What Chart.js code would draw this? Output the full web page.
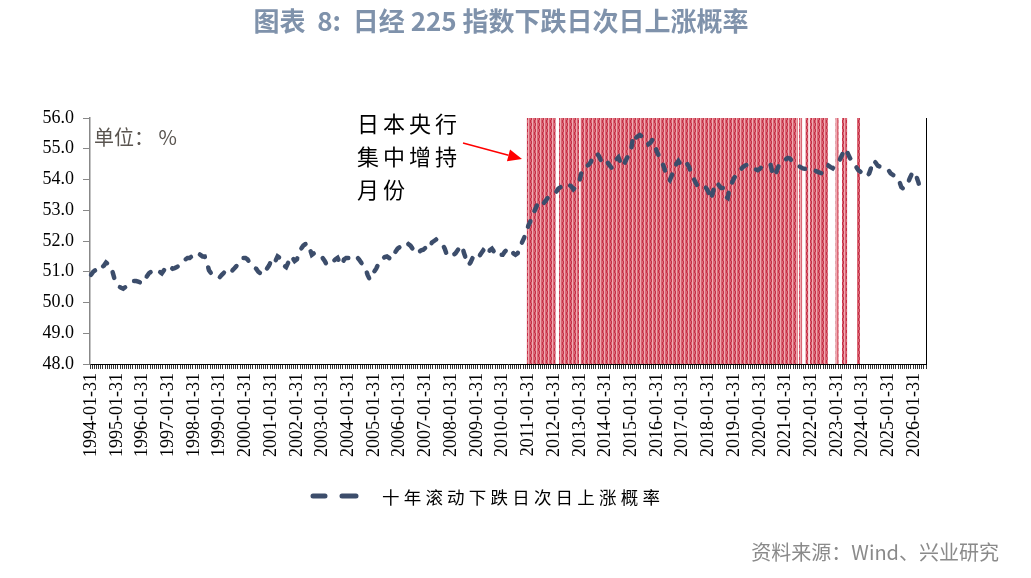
<!DOCTYPE html>
<html>
<head>
<meta charset="utf-8">
<script src="https://cdn.jsdelivr.net/npm/chart.js@4.4.1/dist/chart.umd.min.js"></script>
<style>
  html, body { margin: 0; padding: 0; background: #fff; }
  #wrap { position: relative; width: 1031px; height: 578px; overflow: hidden; background: #fff; }
  #c { position: absolute; left: 0; top: 0; }
  #title { position: absolute; left: 0; width: 1002px; top: 1px; text-align: center; white-space: pre;
    font-family: "Noto Sans CJK SC", "Noto Sans", sans-serif; font-weight: bold; font-size: 26px; color: #7f92ab; }
  #source { position: absolute; right: 32px; top: 537px;
    font-family: "Noto Sans CJK SC", "Noto Sans", sans-serif; font-size: 20px; color: #8a8a8a; }
</style>
</head>
<body>
<div id="wrap">
  <canvas id="c" width="1031" height="578"></canvas>
  <div id="title">图表  8:  日经 225 指数下跌日次日上涨概率</div>
  <div id="source">资料来源：Wind、兴业研究</div>
</div>
<script>
// ---------------- data ----------------
const startYear = 1994, endYear = 2026, endMonth = 6; // category axis 1994-01 .. 2026-06
const seriesName = "十年滚动下跌日次日上涨概率";
const unitText = "单位： %";
const noteLines = ["日本央行", "集中增持", "月份"];
const yTicks = [48, 49, 50, 51, 52, 53, 54, 55, 56];

// monthly values, one row per year (Jan..Dec)
const upProb = [
  50.9, 51.0, 51.05, 51.1, 51.05, 51.15, 51.2, 51.3, 51.25, 51.2, 51.0, 50.75,   // 1994
  50.65, 50.52, 50.48, 50.45, 50.5, 50.55, 50.6, 50.65, 50.7, 50.7, 50.68, 50.65, // 1995
  50.62, 50.7, 50.85, 50.95, 51.0, 50.98, 51.0, 51.05, 51.0, 50.95, 51.05, 51.15, // 1996
  51.2, 51.15, 51.1, 51.12, 51.15, 51.2, 51.3, 51.35, 51.4, 51.45, 51.45, 51.5,   // 1997
  51.55, 51.62, 51.6, 51.55, 51.5, 51.5, 51.3, 51.05, 50.95, 50.9, 50.85, 50.8,   // 1998
  50.82, 50.9, 50.97, 50.93, 50.9, 50.95, 51.05, 51.12, 51.2, 51.3, 51.4, 51.45,  // 1999
  51.45, 51.4, 51.3, 51.25, 51.15, 51.1, 51.0, 50.95, 50.9, 51.0, 51.1, 51.2,     // 2000
  51.35, 51.25, 51.35, 51.5, 51.45, 51.3, 51.2, 51.15, 51.3, 51.5, 51.45, 51.35,  // 2001
  51.4, 51.6, 51.75, 51.85, 51.9, 51.93, 51.75, 51.55, 51.6, 51.6, 51.58, 51.55,  // 2002
  51.45, 51.35, 51.22, 51.25, 51.3, 51.35, 51.4, 51.45, 51.3, 51.22, 51.4, 51.45, // 2003
  51.45, 51.5, 51.48, 51.5, 51.48, 51.4, 51.3, 51.2, 51.1, 50.9, 50.75, 50.9,     // 2004
  51.0, 51.1, 51.25, 51.35, 51.42, 51.48, 51.5, 51.45, 51.4, 51.5, 51.65, 51.75,  // 2005
  51.8, 51.75, 51.8, 51.85, 51.9, 51.85, 51.75, 51.62, 51.6, 51.65, 51.7, 51.72,  // 2006
  51.78, 51.72, 51.8, 51.95, 52.0, 52.05, 52.0, 51.95, 51.88, 51.75, 51.55, 51.5, // 2007
  51.5, 51.55, 51.6, 51.7, 51.8, 51.85, 51.6, 51.4, 51.22, 51.3, 51.45, 51.5,     // 2008
  51.42, 51.5, 51.6, 51.7, 51.65, 51.55, 51.7, 51.75, 51.65, 51.55, 51.5, 51.55,  // 2009
  51.55, 51.65, 51.72, 51.77, 51.7, 51.6, 51.55, 51.6, 51.75, 51.95, 52.1, 52.3,  // 2010
  52.5, 52.65, 52.85, 53.0, 53.15, 53.3, 53.28, 53.22, 53.3, 53.4, 53.45, 53.5,   // 2011
  53.55, 53.6, 53.7, 53.75, 53.75, 53.72, 53.78, 53.82, 53.78, 53.68, 53.75, 53.85, // 2012
  54.0, 54.3, 54.38, 54.43, 54.47, 54.55, 54.7, 54.8, 54.85, 54.75, 54.6, 54.68,  // 2013
  54.65, 54.55, 54.45, 54.37, 54.5, 54.65, 54.72, 54.55, 54.42, 54.55, 54.7, 54.8, // 2014
  55.0, 55.45, 55.35, 55.4, 55.45, 55.4, 55.35, 55.28, 55.15, 55.2, 55.3, 55.1,   // 2015
  54.9, 54.75, 54.6, 54.45, 54.25, 54.05, 53.98, 54.15, 54.3, 54.5, 54.6, 54.5,   // 2016
  54.42, 54.48, 54.52, 54.4, 54.2, 54.05, 53.9, 53.78, 53.75, 53.8, 53.78, 53.72, // 2017
  53.6, 53.35, 53.55, 53.85, 53.9, 53.8, 53.72, 53.72, 53.45, 53.4, 53.75, 53.9,  // 2018
  54.05, 54.15, 54.25, 54.32, 54.4, 54.45, 54.48, 54.45, 54.38, 54.35, 54.33, 54.3, // 2019
  54.35, 54.42, 54.45, 54.5, 54.48, 54.47, 54.2, 54.1, 54.3, 54.5, 54.58, 54.62,  // 2020
  54.65, 54.7, 54.68, 54.6, 54.55, 54.5, 54.45, 54.4, 54.36, 54.35, 54.33, 54.3,  // 2021
  54.3, 54.3, 54.28, 54.25, 54.22, 54.2, 54.22, 54.3, 54.45, 54.4, 54.36, 54.45,  // 2022
  54.55, 54.6, 54.75, 54.9, 55.0, 54.85, 54.7, 54.62, 54.5, 54.4, 54.3, 54.25,    // 2023
  54.22, 54.15, 54.1, 54.2, 54.4, 54.62, 54.55, 54.45, 54.42, 54.4, 54.38, 54.35, // 2024
  54.3, 54.2, 54.15, 54.12, 54.08, 53.95, 53.75, 53.7, 53.8, 53.88, 54.05, 54.2,  // 2025
  54.25, 54.1, 53.9, 53.6                                                          // 2026
];

// months with concentrated BOJ ETF buying (inclusive ranges, YYYY-MM)
const bojRanges = [
  ["2011-01", "2012-01"], ["2012-04", "2012-12"], ["2013-02", "2021-06"],
  ["2021-08", "2021-08"], ["2021-11", "2021-11"], ["2022-01", "2022-08"],
  ["2023-01", "2023-01"], ["2023-04", "2023-05"], ["2023-11", "2023-11"]
];

// ---------------- build categories ----------------
const months = [];   // "YYYY-MM"
const labels = [];   // month-end dates
for (let y = startYear; y <= endYear; y++) {
  for (let m = 1; m <= 12; m++) {
    if (y === endYear && m > endMonth) break;
    const mm = String(m).padStart(2, "0");
    const dd = String(new Date(y, m, 0).getDate()).padStart(2, "0");
    months.push(y + "-" + mm);
    labels.push(y + "-" + mm + "-" + dd);
  }
}
const lineData = months.map((_, i) => (i < upProb.length ? upProb[i] : null));
const bojData = months.map(k => bojRanges.some(r => k >= r[0] && k <= r[1]) ? 56 : null);

// ---------------- hatch pattern ----------------
function makePattern() {
  const p = document.createElement("canvas");
  p.width = 4; p.height = 6;
  const g = p.getContext("2d");
  g.fillStyle = "#da6775"; g.fillRect(0, 0, 4, 6);
  g.fillStyle = "#eea9b1"; g.fillRect(0, 0, 1, 6);
  g.fillStyle = "#c52f47"; g.fillRect(2, 0, 1, 3); g.fillRect(3, 3, 1, 3);
  return document.getElementById("c").getContext("2d").createPattern(p, "repeat");
}

const lineColor = "#3c4d6b";

const decor = {
  id: "decor",
  beforeDraw(chart) {
    const ctx = chart.ctx;
    ctx.save(); ctx.fillStyle = "#fff"; ctx.fillRect(0, 0, chart.width, chart.height); ctx.restore();
  },
  afterDraw(chart) {
    const ctx = chart.ctx, a = chart.chartArea;
    ctx.save();
    // right border
    ctx.strokeStyle = "#000"; ctx.lineWidth = 1;
    ctx.beginPath(); ctx.moveTo(a.right + 0.5, a.top); ctx.lineTo(a.right + 0.5, a.bottom); ctx.stroke();
    // unit
    ctx.fillStyle = "#5a5550"; ctx.font = '20px "Noto Sans CJK SC"';
    ctx.textBaseline = "middle"; ctx.textAlign = "left";
    ctx.fillText(unitText, a.left + 4, a.top + 19);
    // note
    ctx.fillStyle = "#000"; ctx.font = '22px "Noto Sans CJK SC"';
    ctx.letterSpacing = "4px";
    noteLines.forEach((t, i) => ctx.fillText(t, a.left + 267, a.top + 6 + i * 33));
    ctx.letterSpacing = "0px";
    // arrow
    ctx.strokeStyle = "#ff0000"; ctx.fillStyle = "#ff0000"; ctx.lineWidth = 1.5;
    const x1 = a.left + 373, y1 = a.top + 25, x2 = a.left + 432, y2 = a.top + 41;
    const ang = Math.atan2(y2 - y1, x2 - x1), L = 14, W = 6;
    const bx = x2 - L * Math.cos(ang), by = y2 - L * Math.sin(ang);
    ctx.beginPath(); ctx.moveTo(x1, y1); ctx.lineTo(bx, by); ctx.stroke();
    ctx.beginPath(); ctx.moveTo(x2, y2);
    ctx.lineTo(bx + W * Math.sin(ang), by - W * Math.cos(ang));
    ctx.lineTo(bx - W * Math.sin(ang), by + W * Math.cos(ang));
    ctx.closePath(); ctx.fill();
    // legend
    const ly = 496;
    ctx.strokeStyle = lineColor; ctx.lineWidth = 5; ctx.lineCap = "round";
    ctx.beginPath(); ctx.moveTo(313, ly); ctx.lineTo(325, ly); ctx.moveTo(342, ly); ctx.lineTo(356, ly); ctx.stroke();
    ctx.fillStyle = "#000"; ctx.font = '17.5px "Noto Sans CJK SC"';
    ctx.letterSpacing = "4.2px";
    ctx.textAlign = "left"; ctx.textBaseline = "middle";
    ctx.fillText(seriesName, 382, ly + 1);
    ctx.restore();
  }
};

const chart = new Chart(document.getElementById("c"), {
  type: "bar",
  data: {
    labels: labels,
    datasets: [
      {
        type: "line", label: seriesName, data: lineData, order: 0,
        borderColor: lineColor, borderWidth: 4.5, borderDash: [6, 11], borderCapStyle: "round",
        pointRadius: 0, tension: 0, spanGaps: false, fill: false
      },
      {
        type: "bar", label: "BOJ", data: bojData, order: 1,
        backgroundColor: makePattern(), borderWidth: 0, inflateAmount: 0.4,
        barPercentage: 1.0, categoryPercentage: 1.0
      }
    ]
  },
  plugins: [decor],
  options: {
    responsive: false, animation: false, devicePixelRatio: 1,
    layout: { padding: { left: 0, right: 105, top: 118, bottom: 114 } },
    plugins: { legend: { display: false }, tooltip: { enabled: false }, title: { display: false } },
    scales: {
      x: {
        offset: true,
        afterFit: s => { s.height = 100; },
        border: { display: true, color: "#000", width: 1 },
        grid: { display: true, drawOnChartArea: false, drawTicks: true, tickLength: 5, color: "#333", offset: true },
        ticks: {
          autoSkip: false, maxRotation: 90, minRotation: 90, padding: 4, color: "#000",
          font: { family: '"Liberation Serif", serif', size: 18 },
          callback: function (v, i) { return months[i] && months[i].endsWith("-01") ? labels[i] : ""; }
        }
      },
      y: {
        min: 48, max: 56,
        afterFit: s => { s.width = 90; },
        afterBuildTicks: s => { s.ticks = yTicks.map(v => ({ value: v })); },
        border: { display: true, color: "#888", width: 1.5 },
        grid: { display: true, drawOnChartArea: false, drawTicks: true, tickLength: 7, color: "#888" },
        ticks: {
          padding: 9, color: "#000",
          font: { family: '"Liberation Serif", serif', size: 18 },
          callback: v => Number(v).toFixed(1)
        }
      }
    }
  }
});
</script>
</body>
</html>
